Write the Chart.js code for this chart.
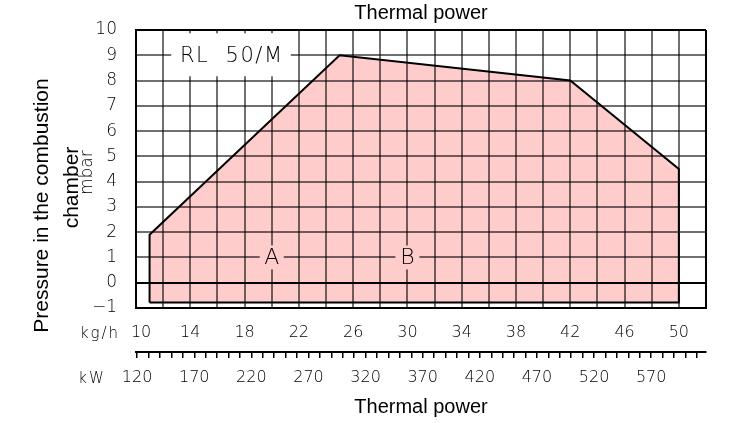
<!DOCTYPE html>
<html>
<head>
<meta charset="utf-8">
<script src="https://cdn.jsdelivr.net/npm/chart.js@4/dist/chart.umd.min.js"></script>
<style>
html,body{margin:0;padding:0;background:#fff;}
canvas{display:block;}
</style>
</head>
<body>
<canvas id="c" width="743" height="423"></canvas>
<script>
// ---- data ----
const flowKgH      = [11, 11, 25, 42, 50, 50, 11];          // firing-range polygon, kg/h
const pressureMbar = [-0.78, 1.9, 9, 8, 4.5, -0.78, -0.78]; // firing-range polygon, mbar
const dividerKgH   = [25, 25];
const dividerMbar  = [9, -0.78];
const yTickValues  = [-1, 0, 1, 2, 3, 4, 5, 6, 7, 8, 9, 10];
const yTickLabels  = ['\u22121', '0', '1', '2', '3', '4', '5', '6', '7', '8', '9', '10'];
const kgTickLabels = [10, 14, 18, 22, 26, 30, 34, 38, 42, 46, 50];
const kwTickLabels = [120, 170, 220, 270, 320, 370, 420, 470, 520, 570];
const zoneNames    = ['A', 'B'];
const zoneKgH      = [20, 30];
const zoneMbar     = [1, 1];
const modelName    = 'RL  50/M';
const modelKgH     = 17;
const modelMbar    = 9;
const titleText    = 'Thermal power';
const yTitleLines  = ['Pressure in the combustion', 'chamber'];
const yUnit        = 'mbar';
const kgUnit       = 'kg/h';
const kwUnit       = 'kW';

// ---- styles ----
const THIN = "'DejaVu Sans', sans-serif";
const SANS = "'Liberation Sans', Arial, sans-serif";
const GRID = 'rgba(0,0,0,0.56)';
const PINK = '#ffcccc';

const annot = {
  id: 'annot',
  afterDraw(chart) {
    const {ctx} = chart;
    const x = chart.scales.x, y = chart.scales.y;
    ctx.save();
    ctx.textAlign = 'center';
    ctx.textBaseline = 'middle';
    // model name box
    ctx.font = `200 21px ${THIN}`;
    ctx.letterSpacing = '1.5px';
    const mx = x.getPixelForValue(modelKgH), my = y.getPixelForValue(modelMbar);
    const mw = ctx.measureText(modelName).width;
    ctx.fillStyle = '#fff';
    ctx.fillRect(mx - mw / 2 - 8, my - 22, mw + 16, 43);
    ctx.fillStyle = '#000';
    ctx.fillText(modelName, mx + 0.75, my + 1);
    // zone labels
    ctx.letterSpacing = '0px';
    ctx.font = `200 22px ${THIN}`;
    zoneNames.forEach((n, i) => {
      const px = x.getPixelForValue(zoneKgH[i]), py = y.getPixelForValue(zoneMbar[i]);
      ctx.fillStyle = PINK;
      ctx.fillRect(px - 12, py - 12, 24, 24);
      ctx.fillStyle = '#000';
      ctx.fillText(n, px, py + 1);
    });
    // y title (rotated)
    ctx.font = `21px ${SANS}`;
    ctx.save();
    ctx.translate(42.5, 205.5);
    ctx.rotate(-Math.PI / 2);
    ctx.fillText(yTitleLines[0], 0, 0);
    ctx.restore();
    ctx.save();
    ctx.translate(72, 187.5);
    ctx.rotate(-Math.PI / 2);
    ctx.fillText(yTitleLines[1], 0, 0);
    ctx.restore();
    // unit labels
    ctx.font = `200 17px ${THIN}`;
    ctx.save();
    ctx.translate(88, 195);
    ctx.rotate(-Math.PI / 2);
    ctx.textAlign = 'left';
    ctx.fillText(yUnit, 0, 0);
    ctx.restore();
    ctx.font = `200 15px ${THIN}`;
    ctx.letterSpacing = '2px';
    ctx.fillText(kgUnit, 100, 334);
    ctx.fillText(kwUnit, 92, 379);
    ctx.restore();
  }
};

new Chart(document.getElementById('c'), {
  type: 'line',
  data: {
    datasets: [
      {
        data: flowKgH.map((v, i) => ({x: v, y: pressureMbar[i]})),
        borderColor: '#000', borderWidth: 2, backgroundColor: PINK,
        fill: 'shape', pointRadius: 0, tension: 0
      },
      {
        data: dividerKgH.map((v, i) => ({x: v, y: dividerMbar[i]})),
        borderColor: '#000', borderWidth: 2, fill: false, pointRadius: 0
      }
    ]
  },
  options: {
    responsive: false,
    animation: false,
    devicePixelRatio: 1,
    layout: {padding: {left: 0, right: 37, top: 0, bottom: 0}},
    plugins: {
      legend: {display: false},
      tooltip: {enabled: false},
      title: {
        display: true, text: titleText, fullSize: false, color: '#000',
        font: {family: SANS, size: 20, weight: 'normal'},
        padding: {top: 1, bottom: 5}
      }
    },
    scales: {
      x: {
        type: 'linear', position: 'bottom', min: 10, max: 52, weight: 0,
        afterFit: s => { s.height = 44; },
        ticks: {
          stepSize: 2, autoSkip: false, maxRotation: 0, minRotation: 0, padding: 15,
          color: '#000', font: {family: THIN, size: 16, weight: '200'},
          callback: (v, i) => kgTickLabels.includes(v) ? (i === 0 ? '  ' + v : String(v)) : ''
        },
        grid: {
          z: 1, drawTicks: false, lineWidth: 2,
          color: c => (c.tick.value === 10 || c.tick.value === 52) ? '#000' : GRID
        },
        border: {color: '#000', width: 2, z: 2}
      },
      kw: {
        type: 'linear', position: 'bottom', min: 119, max: 618, weight: 1,
        afterFit: s => { s.height = 71; },
        afterBuildTicks: s => {
          const t = [];
          for (let v = Math.ceil(s.min / 10) * 10; v <= s.max; v += 10) t.push({value: v});
          s.ticks = t;
        },
        ticks: {
          autoSkip: false, maxRotation: 0, minRotation: 0, padding: 10,
          color: '#000', font: {family: THIN, size: 16, weight: '200'},
          callback: v => kwTickLabels.includes(v) ? String(v) : ''
        },
        grid: {drawOnChartArea: false, drawTicks: true, tickLength: 6, color: '#000', lineWidth: 1.5},
        border: {color: '#000', width: 2},
        title: {
          display: true, text: titleText, color: '#000',
          font: {family: SANS, size: 20, weight: 'normal'},
          padding: {top: 0, bottom: 4}
        }
      },
      y: {
        type: 'linear', position: 'left', min: -1, max: 10,
        afterFit: s => { s.width = 136; },
        ticks: {
          stepSize: 1, autoSkip: false, padding: 19,
          color: '#000', font: {family: THIN, size: 17, weight: '200'},
          callback: v => yTickLabels[yTickValues.indexOf(v)]
        },
        grid: {
          z: 1, drawTicks: false, lineWidth: 2,
          color: c => (c.tick.value === 10 || c.tick.value === 0 || c.tick.value === -1) ? '#000' : GRID
        },
        border: {color: '#000', width: 2, z: 2}
      }
    }
  },
  plugins: [annot]
});
</script>
</body>
</html>
